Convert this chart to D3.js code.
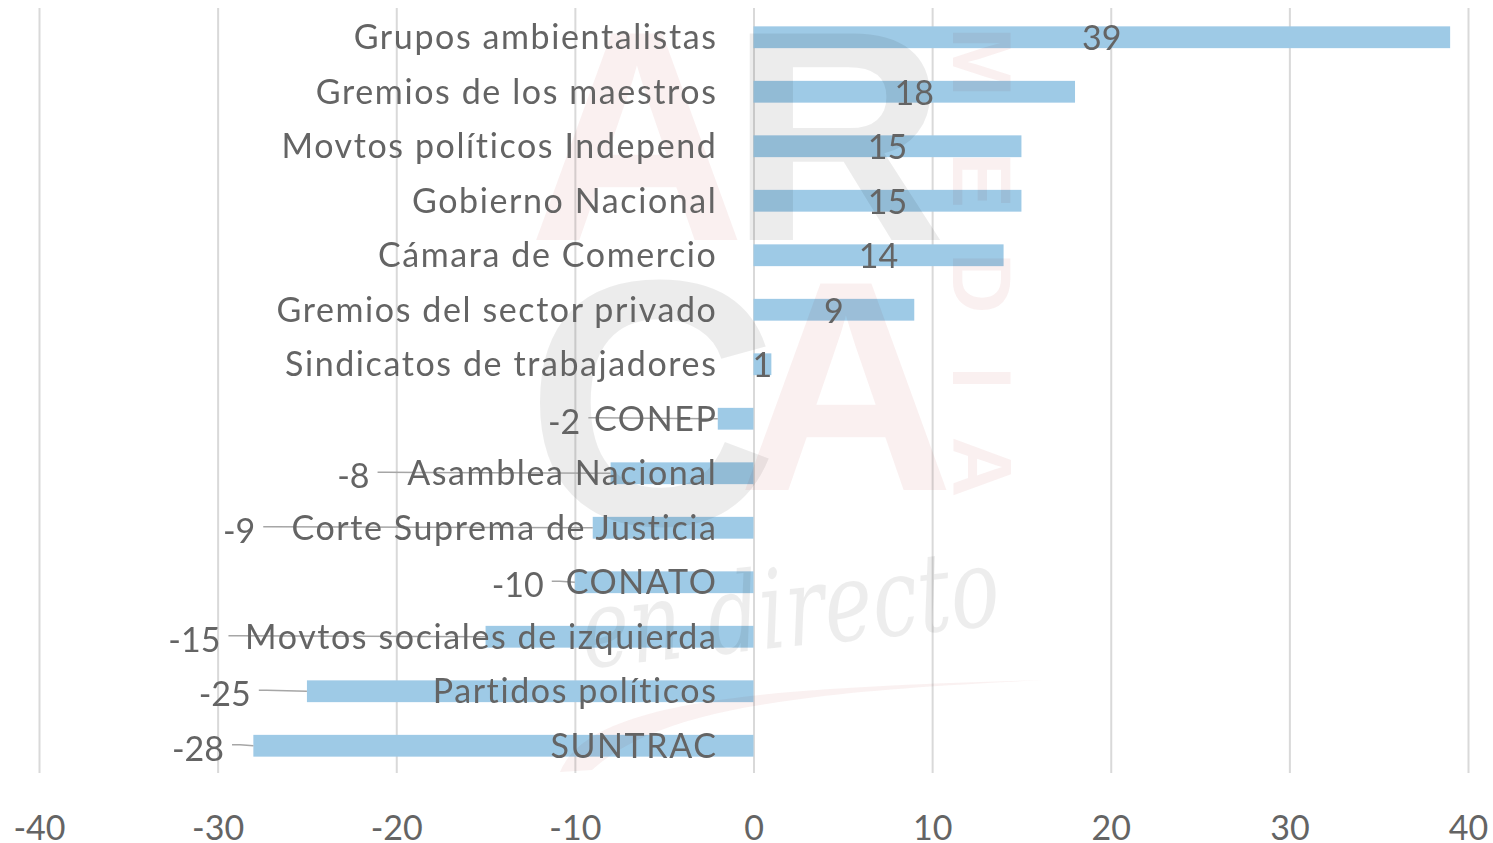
<!DOCTYPE html>
<meta charset="utf-8">
<title>Actores</title>
<head>
    <script src="https://d3js.org/d3.v7.min.js"></script>
</head>
<body style="margin: 0px; background: #fff">
<script>

    var categories = ["Grupos ambientalistas", "Gremios de los maestros", "Movtos políticos Independ",
        "Gobierno Nacional", "Cámara de Comercio", "Gremios del sector privado",
        "Sindicatos de trabajadores", "CONEP", "Asamblea Nacional", "Corte Suprema de Justicia",
        "CONATO", "Movtos sociales de izquierda", "Partidos políticos", "SUNTRAC"]
    var values = [39, 18, 15, 15, 14, 9, 1, -2, -8, -9, -10, -15, -25, -28]
    // where the labels of the negative bars were dragged to, in axis units
    var labelAt = [null, null, null, null, null, null, null, -10.6, -22.4, -28.8, -13.2, -31.3, -29.6, -31.1]
    var ticks = [-40, -30, -20, -10, 0, 10, 20, 30, 40]

    var width = 1493,
        height = 843,
        textColor = "#646464",
        font = "Lato, 'Open Sans', sans-serif";

    var x = d3.scaleLinear().domain([-40, 40]).range([39, 1468]);
    var y = d3.scaleBand().domain(categories).range([10, 773])
        .paddingInner(0.6).paddingOuter(0.3);

    var svg = d3.select("body").append("svg")
        .attr("width", width)
        .attr("height", height)
        .style("display", "block");

    // gridlines + tick labels
    var xAxis = d3.axisBottom(x).tickValues(ticks).tickSize(-765).tickFormat(function (d) { return String(d); });
    var ax = svg.append("g").attr("transform", "translate(0,773)").call(xAxis);
    ax.select(".domain").remove();
    ax.selectAll(".tick line").attr("stroke", "#d9d9d9").attr("stroke-width", 2);
    ax.selectAll(".tick text")
        .attr("y", 67).attr("dy", 0)
        .attr("fill", textColor)
        .style("font-family", font)
        .style("font-size", "34px");

    // bars
    svg.append("g").selectAll("rect")
        .data(values)
        .join("rect")
        .attr("x", function (d) { return x(Math.min(0, d)); })
        .attr("y", function (d, i) { return y(categories[i]); })
        .attr("width", function (d) { return Math.abs(x(d) - x(0)); })
        .attr("height", y.bandwidth())
        .attr("fill", "#9ecae6");

    // watermark (ARCA media en directo)
    var wm = svg.append("g").style("mix-blend-mode", "multiply");
    var pink = "rgb(190,60,60)", grey = "#000";
    var big = [
        {t: "A", x: 637, y: 240, s: 300, c: pink},
        {t: "R", x: 838, y: 240, s: 300, c: grey},
        {t: "C", x: 652, y: 524, s: 350, c: grey},
        {t: "A", x: 846, y: 490, s: 300, c: pink}
    ];
    wm.selectAll("text.big").data(big).join("text")
        .attr("class", "big")
        .attr("x", function (d) { return d.x; })
        .attr("y", function (d) { return d.y; })
        .attr("text-anchor", "middle")
        .attr("fill", function (d) { return d.c; })
        .attr("fill-opacity", 0.075)
        .style("font-family", "'Liberation Sans', Arial, sans-serif")
        .style("font-weight", "bold")
        .style("font-size", function (d) { return d.s + "px"; })
        .text(function (d) { return d.t; });

    var media = [["M", 62], ["E", 180], ["D", 283], ["I", 378], ["A", 467]];
    wm.selectAll("text.media").data(media).join("text")
        .attr("class", "media")
        .attr("transform", function (d) { return "translate(953," + d[1] + ") rotate(90)"; })
        .attr("text-anchor", "middle")
        .attr("fill", pink)
        .attr("fill-opacity", 0.08)
        .style("font-family", "'Liberation Sans', Arial, sans-serif")
        .style("font-weight", "bold")
        .style("font-size", "84px")
        .text(function (d) { return d[0]; });

    wm.append("path")
        .attr("d", "M560,772 C590,700 760,688 1045,680 C800,692 660,708 592,770 Z")
        .attr("fill", pink).attr("fill-opacity", 0.07);
    wm.append("text")
        .attr("transform", "translate(585,668) rotate(-6)")
        .attr("fill", grey)
        .attr("fill-opacity", 0.07)
        .attr("textLength", 420)
        .attr("lengthAdjust", "spacingAndGlyphs")
        .style("font-family", "'DejaVu Serif', serif")
        .style("font-style", "italic")
        .style("font-size", "110px")
        .text("en directo");

    // leader lines for the moved labels
    var lbl = svg.append("g");
    values.forEach(function (v, i) {
        if (labelAt[i] === null) return;
        var cy = y(categories[i]) + y.bandwidth() / 2;
        var t = lbl.append("text")
            .attr("x", x(labelAt[i]))
            .attr("y", cy + 15)
            .attr("text-anchor", "middle")
            .attr("fill", textColor)
            .style("font-family", font)
            .style("font-size", "34px")
            .text(v);
        var w = t.node().getComputedTextLength();
        var x0 = x(labelAt[i]) + w / 2 + 8;
        lbl.append("path")
            .attr("d", "M" + x0 + "," + (cy - 1) + "L" + (x0 + 8) + "," + (cy - 1) + "L" + x(v) + "," + cy)
            .attr("fill", "none")
            .attr("stroke", "#a6a6a6")
            .attr("stroke-width", 1.5);
    });

    // category labels
    svg.append("g").selectAll("text")
        .data(categories)
        .join("text")
        .attr("x", x(0) - 36)
        .attr("y", function (d) { return y(d) + y.bandwidth() / 2 + 12; })
        .attr("text-anchor", "end")
        .attr("fill", textColor)
        .style("font-family", font)
        .style("font-size", "34px")
        .style("letter-spacing", "1.6px")
        .text(function (d) { return d; });

    // value labels of the positive bars, centred in the bar
    svg.append("g").selectAll("text")
        .data(values.filter(function (d) { return d > 0; }))
        .join("text")
        .attr("x", function (d) { return (x(0) + x(d)) / 2; })
        .attr("y", function (d, i) { return y(categories[i]) + y.bandwidth() / 2 + 13; })
        .attr("text-anchor", "middle")
        .attr("fill", textColor)
        .style("font-family", font)
        .style("font-size", "34px")
        .text(function (d) { return d; });

</script>
